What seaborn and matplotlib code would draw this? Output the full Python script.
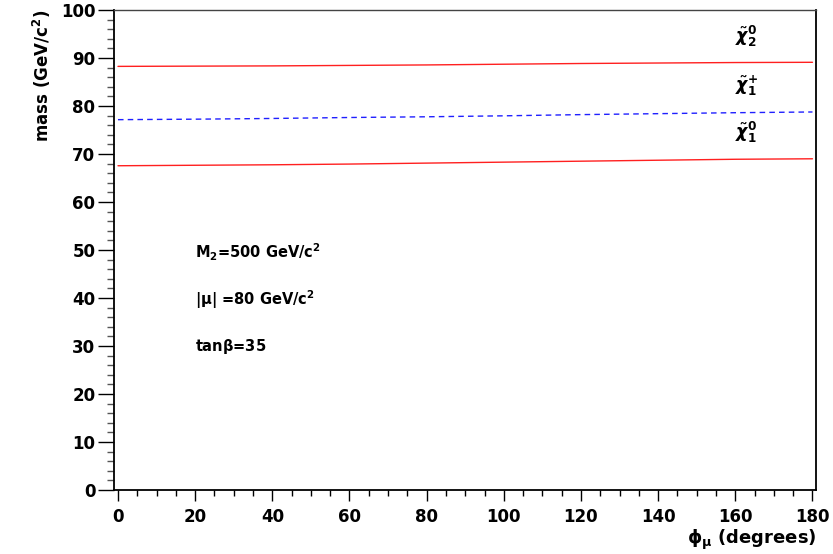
import numpy as np
import pandas as pd
import matplotlib
matplotlib.use("Agg")
import matplotlib.pyplot as plt
import seaborn as sns
from matplotlib.ticker import MultipleLocator

# phase of mu (degrees) and the three lightest masses
phi_mu = [0, 20, 40, 60, 80, 100, 120, 140, 160, 180]
m_chi2_0 = [88.25, 88.3, 88.35, 88.45, 88.55, 88.7, 88.85, 88.95, 89.05, 89.1]
m_chi1_p = [77.15, 77.25, 77.4, 77.6, 77.75, 77.95, 78.2, 78.4, 78.6, 78.75]
m_chi1_0 = [67.55, 67.65, 67.75, 67.9, 68.1, 68.3, 68.5, 68.7, 68.9, 69.0]

series_names = ["chi2_0", "chi1_p", "chi1_0"]
series_labels = [r"$\tilde{\mathit{\chi}}^{\mathbf{0}}_{\mathbf{2}}$",
                 r"$\tilde{\mathit{\chi}}^{\mathbf{+}}_{\mathbf{1}}$",
                 r"$\tilde{\mathit{\chi}}^{\mathbf{0}}_{\mathbf{1}}$"]
label_y = [94.4, 84.2, 74.4]
params_text = [r"M$_2$=500 GeV/c$^2$", r"|$\mu$| =80 GeV/c$^2$", r"tan$\beta$=35"]
params_y = [49.6, 39.6, 29.8]


def build_frame():
    df = pd.DataFrame({
        "phi": phi_mu * 3,
        "mass": m_chi2_0 + m_chi1_p + m_chi1_0,
        "state": [n for n in series_names for _ in phi_mu],
    })
    return df


def mass_plot(df):
    sns.set_theme(style="ticks")
    plt.rcParams["font.family"] = ["DejaVu Sans"]
    plt.rcParams["font.weight"] = "bold"
    plt.rcParams["mathtext.fontset"] = "dejavusans"
    plt.rcParams["mathtext.default"] = "bf"
    for key in ["text.color", "axes.labelcolor", "xtick.color", "ytick.color", "axes.edgecolor"]:
        plt.rcParams[key] = "black"

    fig = plt.figure(figsize=(8.33, 5.54), dpi=100)
    ax = fig.add_axes([0.137, 0.1155, 0.843, 0.8665])

    palette = {"chi2_0": "#ff2020", "chi1_p": "#2020ff", "chi1_0": "#ff2020"}
    dashes = {"chi2_0": "", "chi1_p": (4, 3), "chi1_0": ""}
    sns.lineplot(data=df, x="phi", y="mass", hue="state", style="state",
                 palette=palette, dashes=dashes, linewidth=1.0,
                 legend=False, ax=ax)

    ax.set_xlim(-1, 181)
    ax.set_ylim(0, 100)
    ax.xaxis.set_major_locator(MultipleLocator(20))
    ax.xaxis.set_minor_locator(MultipleLocator(5))
    ax.yaxis.set_major_locator(MultipleLocator(10))
    ax.yaxis.set_minor_locator(MultipleLocator(2))

    ax.tick_params(axis="y", which="major", direction="out", length=11.5, width=1.0,
                   labelsize=12, pad=2, color="black", labelcolor="black")
    ax.tick_params(axis="y", which="minor", direction="out", length=5, width=1.0, color="#555555")
    ax.tick_params(axis="x", which="major", direction="out", length=8, width=1.0,
                   labelsize=12, pad=5, color="black", labelcolor="black")
    ax.tick_params(axis="x", which="minor", direction="out", length=4.5, width=1.0, color="black")
    for lab in ax.get_xticklabels() + ax.get_yticklabels():
        lab.set_fontweight("bold")

    for side in ["left", "bottom", "right"]:
        ax.spines[side].set_visible(True)
        ax.spines[side].set_linewidth(1.3)
        ax.spines[side].set_color("black")
    ax.spines["top"].set_visible(True)
    ax.spines["top"].set_linewidth(1.0)
    ax.spines["top"].set_color("#444444")

    ax.set_xlabel(r"$\phi_{\mu}$ (degrees)", fontsize=13, fontweight="bold",
                  loc="right", labelpad=1.5)
    ax.set_ylabel(r"mass (GeV/c$^2$)", fontsize=12, fontweight="bold",
                  loc="top", labelpad=6)

    for lab, yv in zip(series_labels, label_y):
        ax.text(159.8, yv, lab, fontsize=12.5, ha="left", va="center", color="black")

    for txt, yv in zip(params_text, params_y):
        ax.text(20, yv, txt, fontsize=10.5, fontweight="bold", ha="left", va="center")

    fig.savefig("out.png", dpi=100)
    plt.close(fig)


if __name__ == "__main__":
    mass_plot(build_frame())
